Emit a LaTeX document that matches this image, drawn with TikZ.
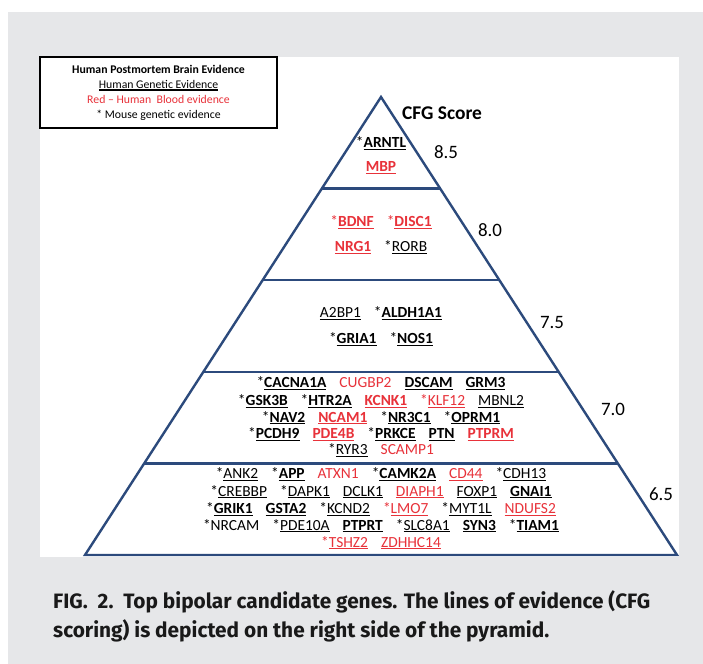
\documentclass[tikz,border=0pt]{standalone}
\usepackage{fontspec}
\setmainfont{Carlito}
\newfontfamily\capfont{Fira Sans}
\usetikzlibrary{calc}
\definecolor{navy}{RGB}{44,74,124}
\definecolor{bloodred}{RGB}{232,50,58}
\definecolor{panelgray}{RGB}{230,231,233}
\newsavebox\genebox
\newcommand\gu[1]{\sbox\genebox{#1}\rlap{\rule[-2.4bp]{\wd\genebox}{1.3bp}}\usebox\genebox}
\newcommand\gbu[1]{\gu{\textbf{#1}}}
\newcommand\gr[1]{\textcolor{bloodred}{#1}}
\newcommand\genefont{\fontsize{15.5}{18}\selectfont\spaceskip 13bp plus 2bp minus 2bp\relax}
\tikzset{tier/.style={line width=2.4bp,draw=navy},gene/.style={anchor=base,inner sep=0,font=\genefont},score/.style={anchor=base,inner sep=0,font=\fontsize{19}{22}\selectfont},capline/.style={anchor=base west,inner sep=0,text=black!90,font=\capfont\bfseries\fontsize{20.9}{24}\selectfont}}

\begin{document}
\begin{tikzpicture}[x=1bp,y=-1bp]
\useasboundingbox (0,0) rectangle (703,664);
\fill[panelgray] (8,12) rectangle (703,664);\fill[white] (40,57) rectangle (679,557);
% pyramid and tiers
\coordinate (apex) at (381,97);\coordinate (bl) at (85,555);\coordinate (br) at (677,555);
\draw[tier] (bl)--(apex)--(br)--cycle;
\foreach \f in {.2,.4,.6,.8}{\draw[tier] ($(apex)!\f!(bl)$)--($(apex)!\f!(br)$);}
% legend
\node[draw,line width=2bp,minimum width=237bp,minimum height=71bp,inner sep=0,align=center,font=\fontsize{11.8}{15}\selectfont] (legend) at (158.5,92.5) {\textbf{Human Postmortem Brain Evidence}\\\gu{Human Genetic Evidence}\\\gr{Red -- Human\ \ Blood evidence}\\* Mouse genetic evidence};
% scores
\node[score,font=\fontsize{19.5}{22}\selectfont\bfseries] (cfg) at (442,119.5) {CFG Score};
\foreach \x/\y/\s in {446/158/8.5,490/236/8.0,552/328/7.5,613/415/7.0,661/500/6.5}{\node[score] (s\s) at (\x,\y) {\s};}
% genes, tier 8.5 to 7.5
\node[gene] (t85a) at (381,147.5) {*\gbu{ARNTL}};
\node[gene] (t85b) at (381,171.5) {\gr{\gbu{MBP}}};
\node[gene] (t80a) at (381,226.5) {\gr{*\gbu{BDNF}} \gr{*\gbu{DISC1}}};
\node[gene] (t80b) at (381,251.5) {\gr{\gbu{NRG1}} *\gu{RORB}};
\node[gene] (t75a) at (381,317.5) {\gu{A2BP1} *\gbu{ALDH1A1}};
\node[gene] (t75b) at (381,343.5) {*\gbu{GRIA1} *\gbu{NOS1}};
% tier 7.0
\node[gene] (t70a) at (381,387.5) {*\gbu{CACNA1A} \gr{CUGBP2} \gbu{DSCAM} \gbu{GRM3}};
\node[gene] (t70b) at (381,405.5) {*\gbu{GSK3B} *\gbu{HTR2A} \gr{\gbu{KCNK1}} \gr{*\gu{KLF12}} \gu{MBNL2}};
\node[gene] (t70c) at (381,422) {*\gbu{NAV2} \gr{\gbu{NCAM1}} *\gbu{NR3C1} *\gbu{OPRM1}};
\node[gene] (t70d) at (381,438.5) {*\gbu{PCDH9} \gr{\gbu{PDE4B}} *\gbu{PRKCE} \gbu{PTN} \gr{\gbu{PTPRM}}};
\node[gene] (t70e) at (381,454.5) {*\gu{RYR3} \gr{SCAMP1}};
% tier 6.5
\node[gene] (t65a) at (381,478.5) {*\gu{ANK2} *\gbu{APP} \gr{ATXN1} *\gbu{CAMK2A} \gr{\gu{CD44}} *\gu{CDH13}};
\node[gene] (t65b) at (381,496) {*\gu{CREBBP} *\gu{DAPK1} \gu{DCLK1} \gr{\gu{DIAPH1}} \gu{FOXP1} \gbu{GNAI1}};
\node[gene] (t65c) at (381,513.5) {*\gbu{GRIK1} \gbu{GSTA2} *\gu{KCND2} \gr{*\gu{LMO7}} *\gu{MYT1L} \gr{\gu{NDUFS2}}};
\node[gene] (t65d) at (381,530) {*NRCAM *\gu{PDE10A} \gbu{PTPRT} *\gu{SLC8A1} \gbu{SYN3} *\gbu{TIAM1}};
\node[gene] (t65e) at (381,547) {\gr{*\gu{TSHZ2}} \gr{\gu{ZDHHC14}}};
% caption
\node[capline] (cap1) at (53,608) {FIG.\ \ 2.\ \ Top bipolar candidate genes. The lines of evidence (CFG};
\node[capline] (cap2) at (53,637) {scoring) is depicted on the right side of the pyramid.};
\end{tikzpicture}
\end{document}
